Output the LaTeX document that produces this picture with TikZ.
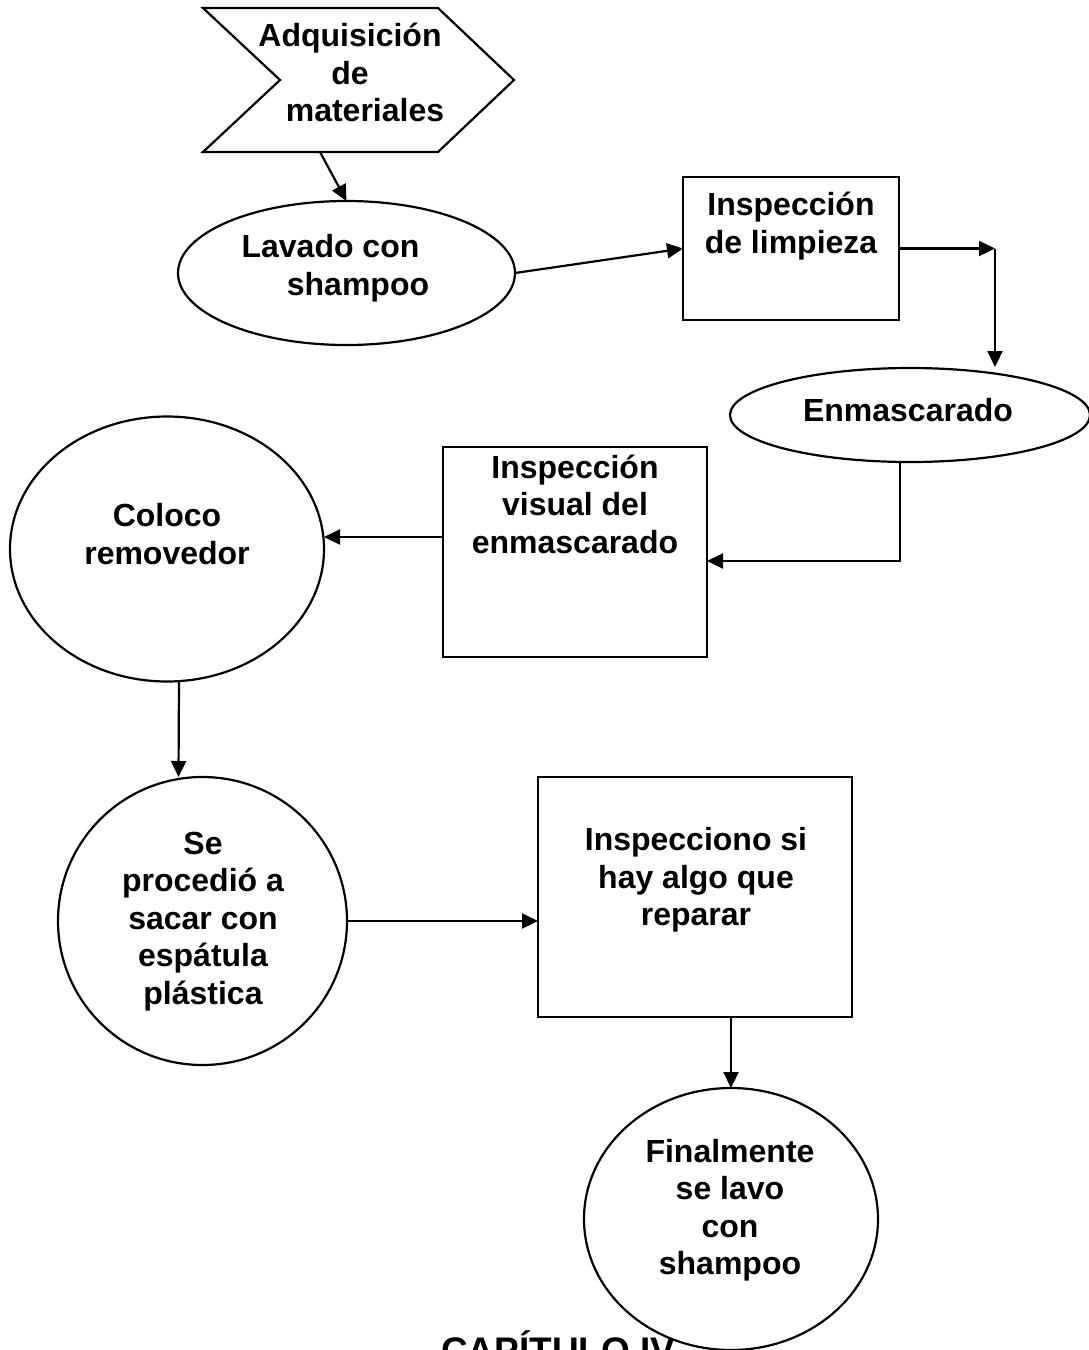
\documentclass[tikz,border=0pt]{standalone}
\usepackage{fontspec}
\setmainfont{Liberation Sans}
\usetikzlibrary{shapes.geometric,arrows.meta,calc}
\begin{document}
\begin{tikzpicture}[x=1pt,y=-1pt,
  shp/.style={draw, line width=2.2pt, fill=white, inner sep=0pt, outer sep=0pt},
  oval/.style={shp, ellipse},
  box/.style={shp, rectangle},
  txt/.style={font=\bfseries\fontsize{32}{37.5}\selectfont, align=center, inner sep=0pt,
    execute at begin node=\strut, execute at end node=\strut},
  arr/.style={line width=2.2pt, -{Triangle[length=16pt,width=15pt]}},
  ln/.style={line width=2.2pt}]
\useasboundingbox (0,0) rectangle (1089,1350);

% heading (partly hidden, as in the reference)
\node[font=\bfseries\fontsize{37}{44}\selectfont, anchor=base west, inner sep=0pt] (cap) at (441,1363.5) {CAPÍTULO IV};

% shapes
\node[inner sep=0pt, outer sep=0pt, minimum width=311pt, minimum height=144pt] (chev) at (358.5,80) {};
\draw[shp, line join=miter] (chev.north west) -- ($(chev.north east)+(-76,0)$) -- (chev.east)
  -- ($(chev.south east)+(-76,0)$) -- (chev.south west) -- ($(chev.west)+(77,0)$) -- cycle;
\node[oval, minimum width=337pt, minimum height=144pt] (lav) at (346.5,273) {};
\node[box, minimum width=216pt, minimum height=143pt] (insp) at (791,248.5) {};
\node[oval, minimum width=360pt, minimum height=94pt] (enm) at (910,415) {};
\node[box, minimum width=264pt, minimum height=210pt] (vis) at (575,552) {};
\node[oval, minimum width=314pt, minimum height=265pt] (col) at (167,549) {};
\node[oval, minimum width=289pt, minimum height=288pt] (circ) at (202.5,921) {};
\node[box, minimum width=314pt, minimum height=240pt] (ins) at (695,897) {};
\node[oval, minimum width=294pt, minimum height=262pt] (fin) at (731,1219) {};

% texts
\node[txt] (tchev) at (350,78) {Adquisición\\de\\\hspace*{30pt}materiales};
\node[txt] (tlav) at (330.5,270.5) {Lavado con\\\hspace*{55pt}shampoo};
\node[txt] (tinsp) at (791,228.5) {Inspección\\de limpieza};
\node[txt] (tenm) at (908,413.5) {Enmascarado};
\node[txt] (tvis) at (575,509.5) {Inspección\\visual del\\enmascarado};
\node[txt] (tcol) at (167,539.5) {Coloco\\removedor};
\node[txt] (tcirc) at (203,923.5) {Se\\procedió a\\sacar con\\espátula\\plástica};
\node[txt] (tins) at (696,882.5) {Inspecciono si\\hay algo que\\reparar};
\node[txt] (tfin) at (730,1212.5) {Finalmente\\se lavo\\con\\shampoo};

% connectors
\coordinate (k1) at (995,248.5);
\coordinate (k2) at (995,367);
\draw[arr] ($(chev.south west)+(117,0)$) -- (lav.north);
\draw[arr] (lav.east) -- (insp.west);
\draw[arr] (insp.east) -- (k1);
\draw[arr] (k1) -- (k2);
\draw[arr] ($(enm.south)+(-10,0)$) |- (vis.east |- 0,561);
\draw[arr] (vis.west |- 0,537) -- (col.east |- 0,537);
\draw[arr] ($(col.south)+(12,0)$) -- ($(circ.north)+(-24,0)$);
\draw[arr] (circ.east) -- (circ.east -| ins.west);
\draw[arr] (fin.north |- ins.south) -- (fin.north);
\end{tikzpicture}
\end{document}
